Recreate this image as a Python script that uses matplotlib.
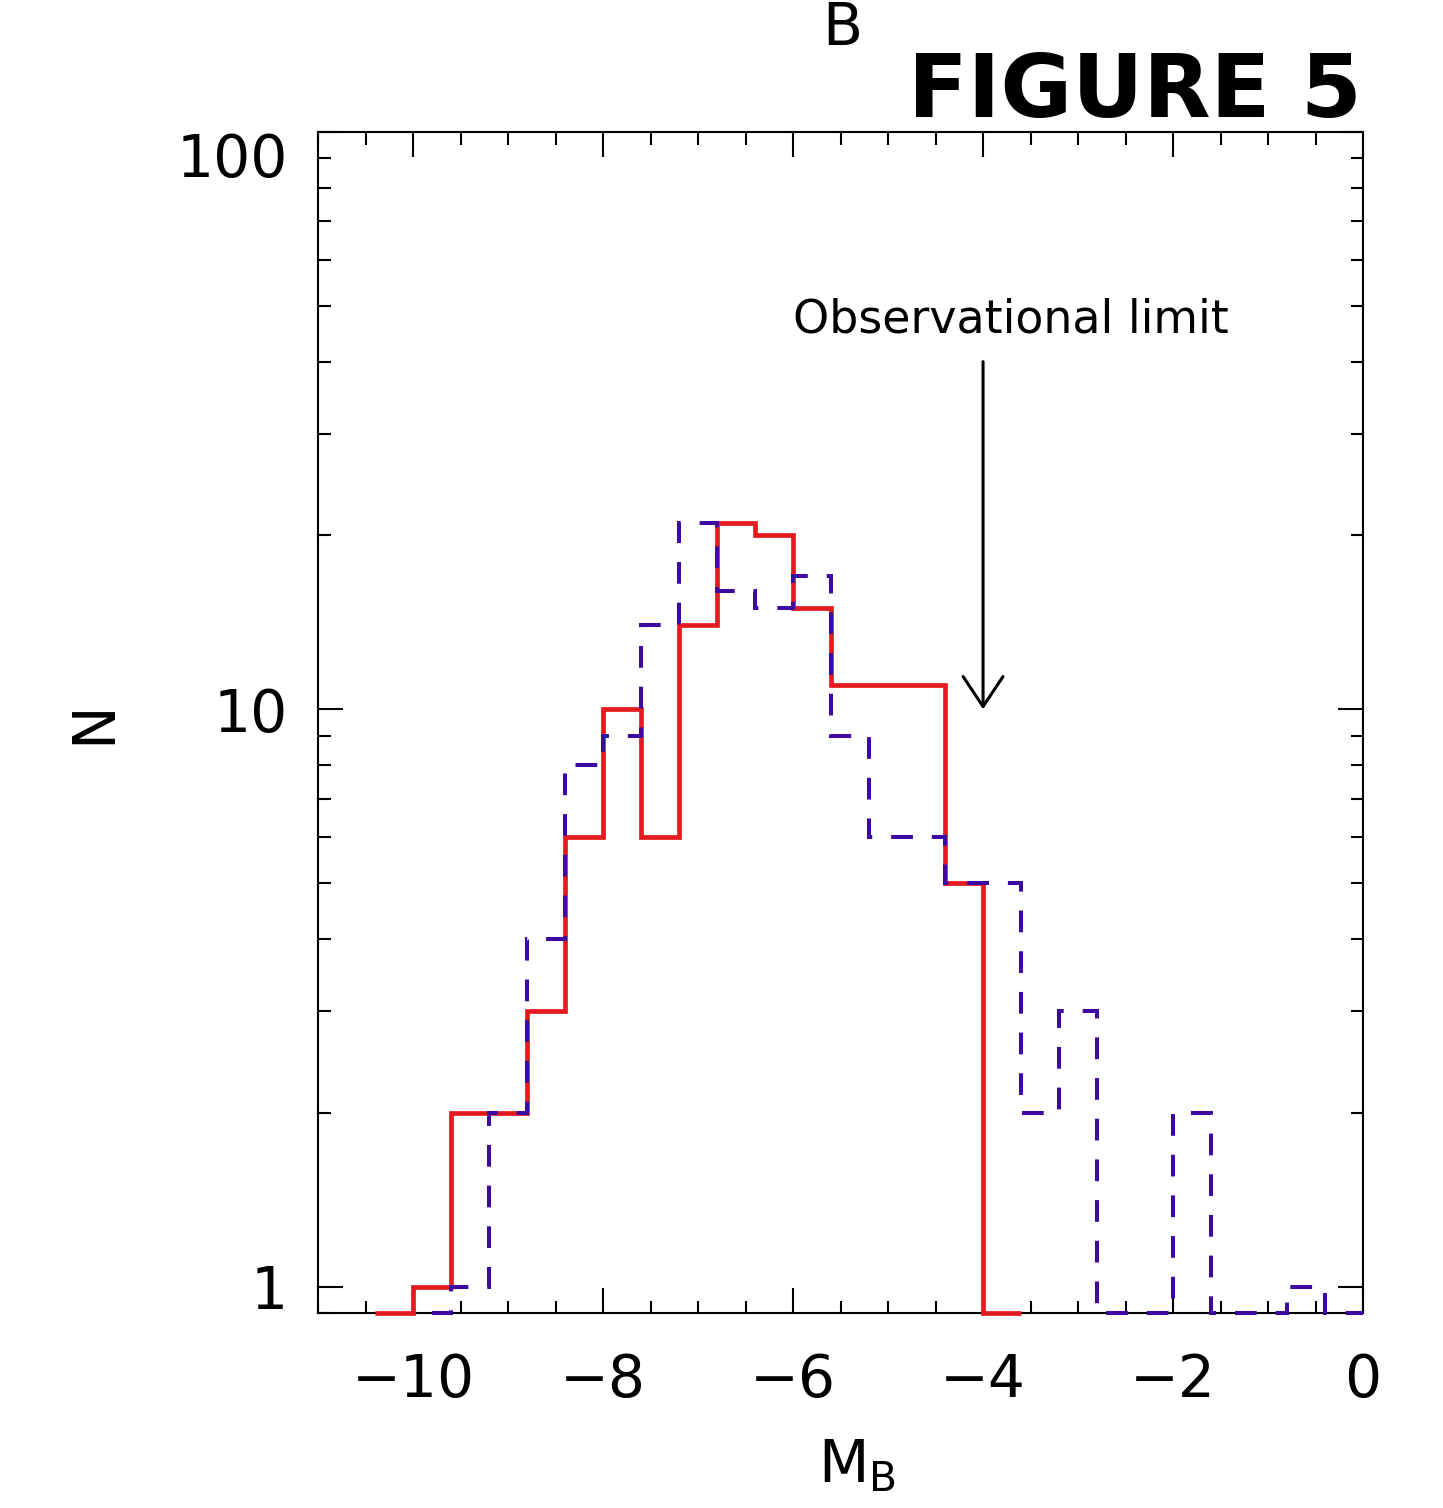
import numpy as np
import matplotlib.pyplot as plt
from matplotlib.ticker import MultipleLocator, LogLocator, NullFormatter

# bin centres (mag) and counts
mb_red = [-10.2, -9.8, -9.4, -9.0, -8.6, -8.2, -7.8, -7.4, -7.0, -6.6, -6.2,
          -5.8, -5.4, -5.0, -4.6, -4.2, -3.8]
n_red = [0, 1, 2, 2, 3, 6, 10, 6, 14, 21, 20, 15, 11, 11, 11, 5, 0]

mb_blue = [-9.8, -9.4, -9.0, -8.6, -8.2, -7.8, -7.4, -7.0, -6.6, -6.2,
           -5.8, -5.4, -5.0, -4.6, -4.2, -3.8, -3.4, -3.0, -2.6, -2.2, -1.8,
           -1.4, -1.0, -0.6, -0.2]
n_blue = [0, 1, 2, 4, 8, 9, 14, 21, 16, 15, 17, 9, 6, 6, 5, 5, 2, 3, 0, 0, 2,
          0, 0, 1, 0]

xticks = [-10, -8, -6, -4, -2, 0]
yticks = [1, 10, 100]
ytick_labels = ['1', '10', '100']

bin_width = 0.4
ymin, ymax = 0.9, 100


def edges(c):
    c = np.asarray(c)
    return np.append(c - bin_width / 2, c[-1] + bin_width / 2)


def floor_zero(n):
    # empty bins sit on the bottom of the log axis
    n = np.asarray(n, dtype=float)
    return np.where(n > 0, n, ymin)


plt.rcParams['font.family'] = 'DejaVu Sans'
plt.rcParams['mathtext.fontset'] = 'dejavusans'

fig = plt.figure(figsize=(14.43, 15.08), dpi=100)
ax = fig.add_axes([0.2204, 0.1293, 0.7242, 0.7832])

ax.stairs(floor_zero(n_red), edges(mb_red), baseline=None, color='#E41A1F',
          lw=3.4, clip_on=False, zorder=3)
ax.stairs(floor_zero(n_blue), edges(mb_blue), baseline=None, color='#3C0AA0',
          lw=2.9, linestyle=(5.4, (5.4, 4.7)), clip_on=False, zorder=4)

ax.set_yscale('log')
ax.set_xlim(-11, 0)
ax.set_ylim(ymin, ymax)

ax.set_xticks(xticks)
ax.xaxis.set_minor_locator(MultipleLocator(0.5))
ax.set_yticks(yticks, labels=ytick_labels)
ax.yaxis.set_minor_locator(LogLocator(base=10, subs=np.arange(2, 10)))
ax.yaxis.set_minor_formatter(NullFormatter())

ax.tick_params(which='both', direction='in', top=True, right=True, width=1.5)
ax.tick_params(which='major', length=18, labelsize=42)
ax.tick_params(which='minor', length=9)
ax.tick_params(axis='x', which='major', pad=28)
ax.tick_params(axis='y', which='major', pad=22)
for lab in ax.get_yticklabels():
    if lab.get_text() == '100':
        lab.set_verticalalignment('top')

for sp in ax.spines.values():
    sp.set_linewidth(1.5)

ax.set_ylabel('N', fontsize=42)
ax.yaxis.set_label_coords(-0.187, 0.5)
ax.set_xlabel(r'$\mathrm{M_B}$', fontsize=42)
ax.xaxis.set_label_coords(0.516, -0.105)

ax.text(-6.0, 45, 'Observational limit', fontsize=33, ha='left',
        va='baseline')
ax.annotate('', xy=(-4, 10), xytext=(-4, 40),
            arrowprops=dict(arrowstyle='->,head_length=1.08,head_width=0.72',
                            mutation_scale=20, lw=2.2, color='black',
                            shrinkA=0, shrinkB=0))

fig.text(0.584, 1 - 45 / 1508, 'B', fontsize=42, ha='center', va='baseline')
fig.text(0.944, 1 - 117 / 1508, 'FIGURE 5', fontsize=63, fontweight='bold',
         ha='right', va='baseline')

fig.savefig('out.png', dpi=100)
